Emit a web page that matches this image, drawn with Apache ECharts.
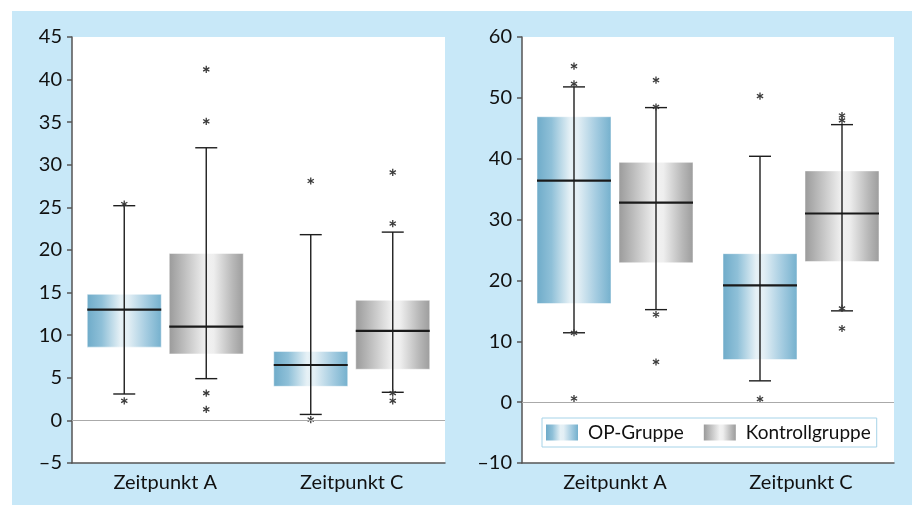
<!DOCTYPE html>
<html><head><meta charset="utf-8">
<script src="https://cdn.jsdelivr.net/npm/echarts@6/dist/echarts.min.js"></script>
<style>html,body{margin:0;padding:0;background:#fff}#c{width:912px;height:505px}</style>
</head><body><div id="c"></div>
<script>
// ---- data ----
const categories = ['Zeitpunkt A', 'Zeitpunkt C'];
// [categoryIndex, whiskerMin, q1, median, q3, whiskerMax]
const leftOP = [[0, 3.1, 8.6, 13.0, 14.8, 25.2], [1, 0.7, 4.0, 6.5, 8.1, 21.8]];
const leftKontroll = [[0, 4.9, 7.8, 11.0, 19.6, 32.0], [1, 3.3, 6.0, 10.5, 14.1, 22.1]];
const leftOPOutliers = [[0, 25.4], [0, 2.3], [1, 28.1], [1, 0.1]];
const leftKontrollOutliers = [[0, 41.2], [0, 35.1], [0, 3.2], [0, 1.3], [1, 29.1], [1, 23.1], [1, 3.2], [1, 2.3]];
const rightOP = [[0, 11.4, 16.2, 36.4, 46.9, 51.8], [1, 3.5, 7.0, 19.2, 24.4, 40.4]];
const rightKontroll = [[0, 15.2, 22.9, 32.8, 39.4, 48.4], [1, 15.0, 23.1, 31.0, 38.0, 45.6]];
const rightOPOutliers = [[0, 55.2], [0, 52.3], [0, 11.4], [0, 0.6], [1, 50.3], [1, 0.5]];
const rightKontrollOutliers = [[0, 52.9], [0, 48.5], [0, 14.4], [0, 6.6], [1, 47.1], [1, 46.3], [1, 15.4], [1, 12.1]];
const leftTicks = {min: -5, max: 45, interval: 5};
const rightTicks = {min: -10, max: 60, interval: 10};
const seriesNames = ['OP-Gruppe', 'Kontrollgruppe'];

// ---- styling ----
const FONT = 'Lato';
const blueGrad = new echarts.graphic.LinearGradient(0, 0, 1, 0, [
  {offset: 0, color: '#6eabc9'}, {offset: 0.2, color: '#8fc0d8'}, {offset: 0.45, color: '#e6f1f6'},
  {offset: 0.55, color: '#e3eff5'}, {offset: 0.8, color: '#a3cbe0'}, {offset: 1, color: '#74b0cd'}]);
const grayGrad = new echarts.graphic.LinearGradient(0, 0, 1, 0, [
  {offset: 0, color: '#9a9a9a'}, {offset: 0.2, color: '#bdbdbd'}, {offset: 0.5, color: '#f2f2f2'},
  {offset: 0.6, color: '#eeeeee'}, {offset: 0.85, color: '#b8b8b8'}, {offset: 1, color: '#9c9c9c'}]);

const OFFSET = 41, HALF = 37, CAP = 11;

function boxRender(offset, grad) {
  return function (params, api) {
    const i = api.value(0);
    const x = api.coord([i, 0])[0] + offset;
    const yMin = api.coord([i, api.value(1)])[1];
    const yQ1 = api.coord([i, api.value(2)])[1];
    const yMed = api.coord([i, api.value(3)])[1];
    const yQ3 = api.coord([i, api.value(4)])[1];
    const yMax = api.coord([i, api.value(5)])[1];
    const ls = {stroke: '#1e1e1e', lineWidth: 1.4};
    return {type: 'group', children: [
      {type: 'rect', shape: {x: x - HALF, y: yQ3, width: 2 * HALF, height: yQ1 - yQ3},
       style: {fill: grad, stroke: 'rgba(255,255,255,0.5)', lineWidth: 1}},
      {type: 'line', shape: {x1: x, y1: yMin, x2: x, y2: yMax}, style: ls},
      {type: 'line', shape: {x1: x - CAP, y1: yMin, x2: x + CAP, y2: yMin}, style: ls},
      {type: 'line', shape: {x1: x - CAP, y1: yMax, x2: x + CAP, y2: yMax}, style: ls},
      {type: 'line', shape: {x1: x - HALF, y1: yMed, x2: x + HALF, y2: yMed}, style: {stroke: '#1a1a1a', lineWidth: 2.2}}
    ]};
  };
}
function starRender(offset) {
  return function (params, api) {
    const i = api.value(0);
    const p = api.coord([i, api.value(1)]);
    const x = p[0] + offset, y = p[1];
    const r = 3.6, s = {stroke: '#3a3a3a', lineWidth: 1.3};
    const ch = [];
    [90, 30, 150].forEach(function (a) {
      const dx = r * Math.cos(a * Math.PI / 180), dy = r * Math.sin(a * Math.PI / 180);
      ch.push({type: 'line', shape: {x1: x - dx, y1: y - dy, x2: x + dx, y2: y + dy}, style: s});
    });
    return {type: 'group', children: ch};
  };
}

function xAxis(gi) {
  return {type: 'category', gridIndex: gi, data: categories,
    axisLine: {onZero: false, lineStyle: {color: '#555', width: 1.5}},
    axisTick: {alignWithLabel: true, length: 7, lineStyle: {color: '#555', width: 1.5}},
    axisLabel: {color: '#111', fontSize: 20, fontFamily: FONT, margin: 10}};
}
function yAxis(gi, t) {
  return {type: 'value', gridIndex: gi, min: t.min, max: t.max, interval: t.interval,
    axisLine: {show: true, lineStyle: {color: '#555', width: 1.5}},
    axisTick: {show: true, length: 5, lineStyle: {color: '#555', width: 1.5}},
    splitLine: {show: false},
    axisLabel: {color: '#111', fontSize: 20, fontFamily: FONT, margin: 10,
      formatter: function (v) { return v < 0 ? '\u2013' + Math.abs(v) : String(v); }}};
}
const zeroLine = {silent: true, symbol: 'none', label: {show: false},
  lineStyle: {color: '#aaa', width: 1, type: 'solid'}, data: [{yAxis: 0}]};

function boxSeries(name, gi, data, offset, grad, withZero) {
  const s = {type: 'custom', name: name, xAxisIndex: gi, yAxisIndex: gi, data: data,
    renderItem: boxRender(offset, grad), itemStyle: {color: grad},
    encode: {x: 0, y: [1, 2, 3, 4, 5]}, z: 3};
  if (withZero) s.markLine = zeroLine;
  return s;
}
function starSeries(gi, data, offset) {
  return {type: 'custom', name: 'out' + gi + offset, xAxisIndex: gi, yAxisIndex: gi, data: data,
    renderItem: starRender(offset), encode: {x: 0, y: 1}, z: 4};
}

const chart = echarts.init(document.getElementById('c'), null, {renderer: 'canvas'});
chart.setOption({
  animation: false,
  textStyle: {fontFamily: FONT},
  graphic: [{type: 'rect', shape: {x: 12, y: 11, width: 900, height: 494}, style: {fill: '#c8e8f8'}, z: -10}],
  grid: [
    {left: 72, top: 37, width: 373, height: 426, show: true, backgroundColor: '#fff', borderWidth: 0},
    {left: 522, top: 37, width: 372, height: 426, show: true, backgroundColor: '#fff', borderWidth: 0}
  ],
  xAxis: [xAxis(0), xAxis(1)],
  yAxis: [yAxis(0, leftTicks), yAxis(1, rightTicks)],
  legend: {data: seriesNames, selectedMode: false, left: 542, top: 418,
    backgroundColor: '#fff', borderColor: '#a6d3e8', borderWidth: 1,
    padding: [5, 6, 5, 4], itemWidth: 32, itemHeight: 16, itemGap: 20, icon: 'rect',
    textStyle: {fontSize: 19, color: '#111', fontFamily: FONT, padding: [0, 0, 0, 5]}},
  series: [
    boxSeries(seriesNames[0], 0, leftOP, -OFFSET, blueGrad, true),
    boxSeries(seriesNames[1], 0, leftKontroll, OFFSET, grayGrad, false),
    starSeries(0, leftOPOutliers, -OFFSET),
    starSeries(0, leftKontrollOutliers, OFFSET),
    boxSeries(seriesNames[0], 1, rightOP, -OFFSET, blueGrad, true),
    boxSeries(seriesNames[1], 1, rightKontroll, OFFSET, grayGrad, false),
    starSeries(1, rightOPOutliers, -OFFSET),
    starSeries(1, rightKontrollOutliers, OFFSET)
  ]
});
</script></body></html>
